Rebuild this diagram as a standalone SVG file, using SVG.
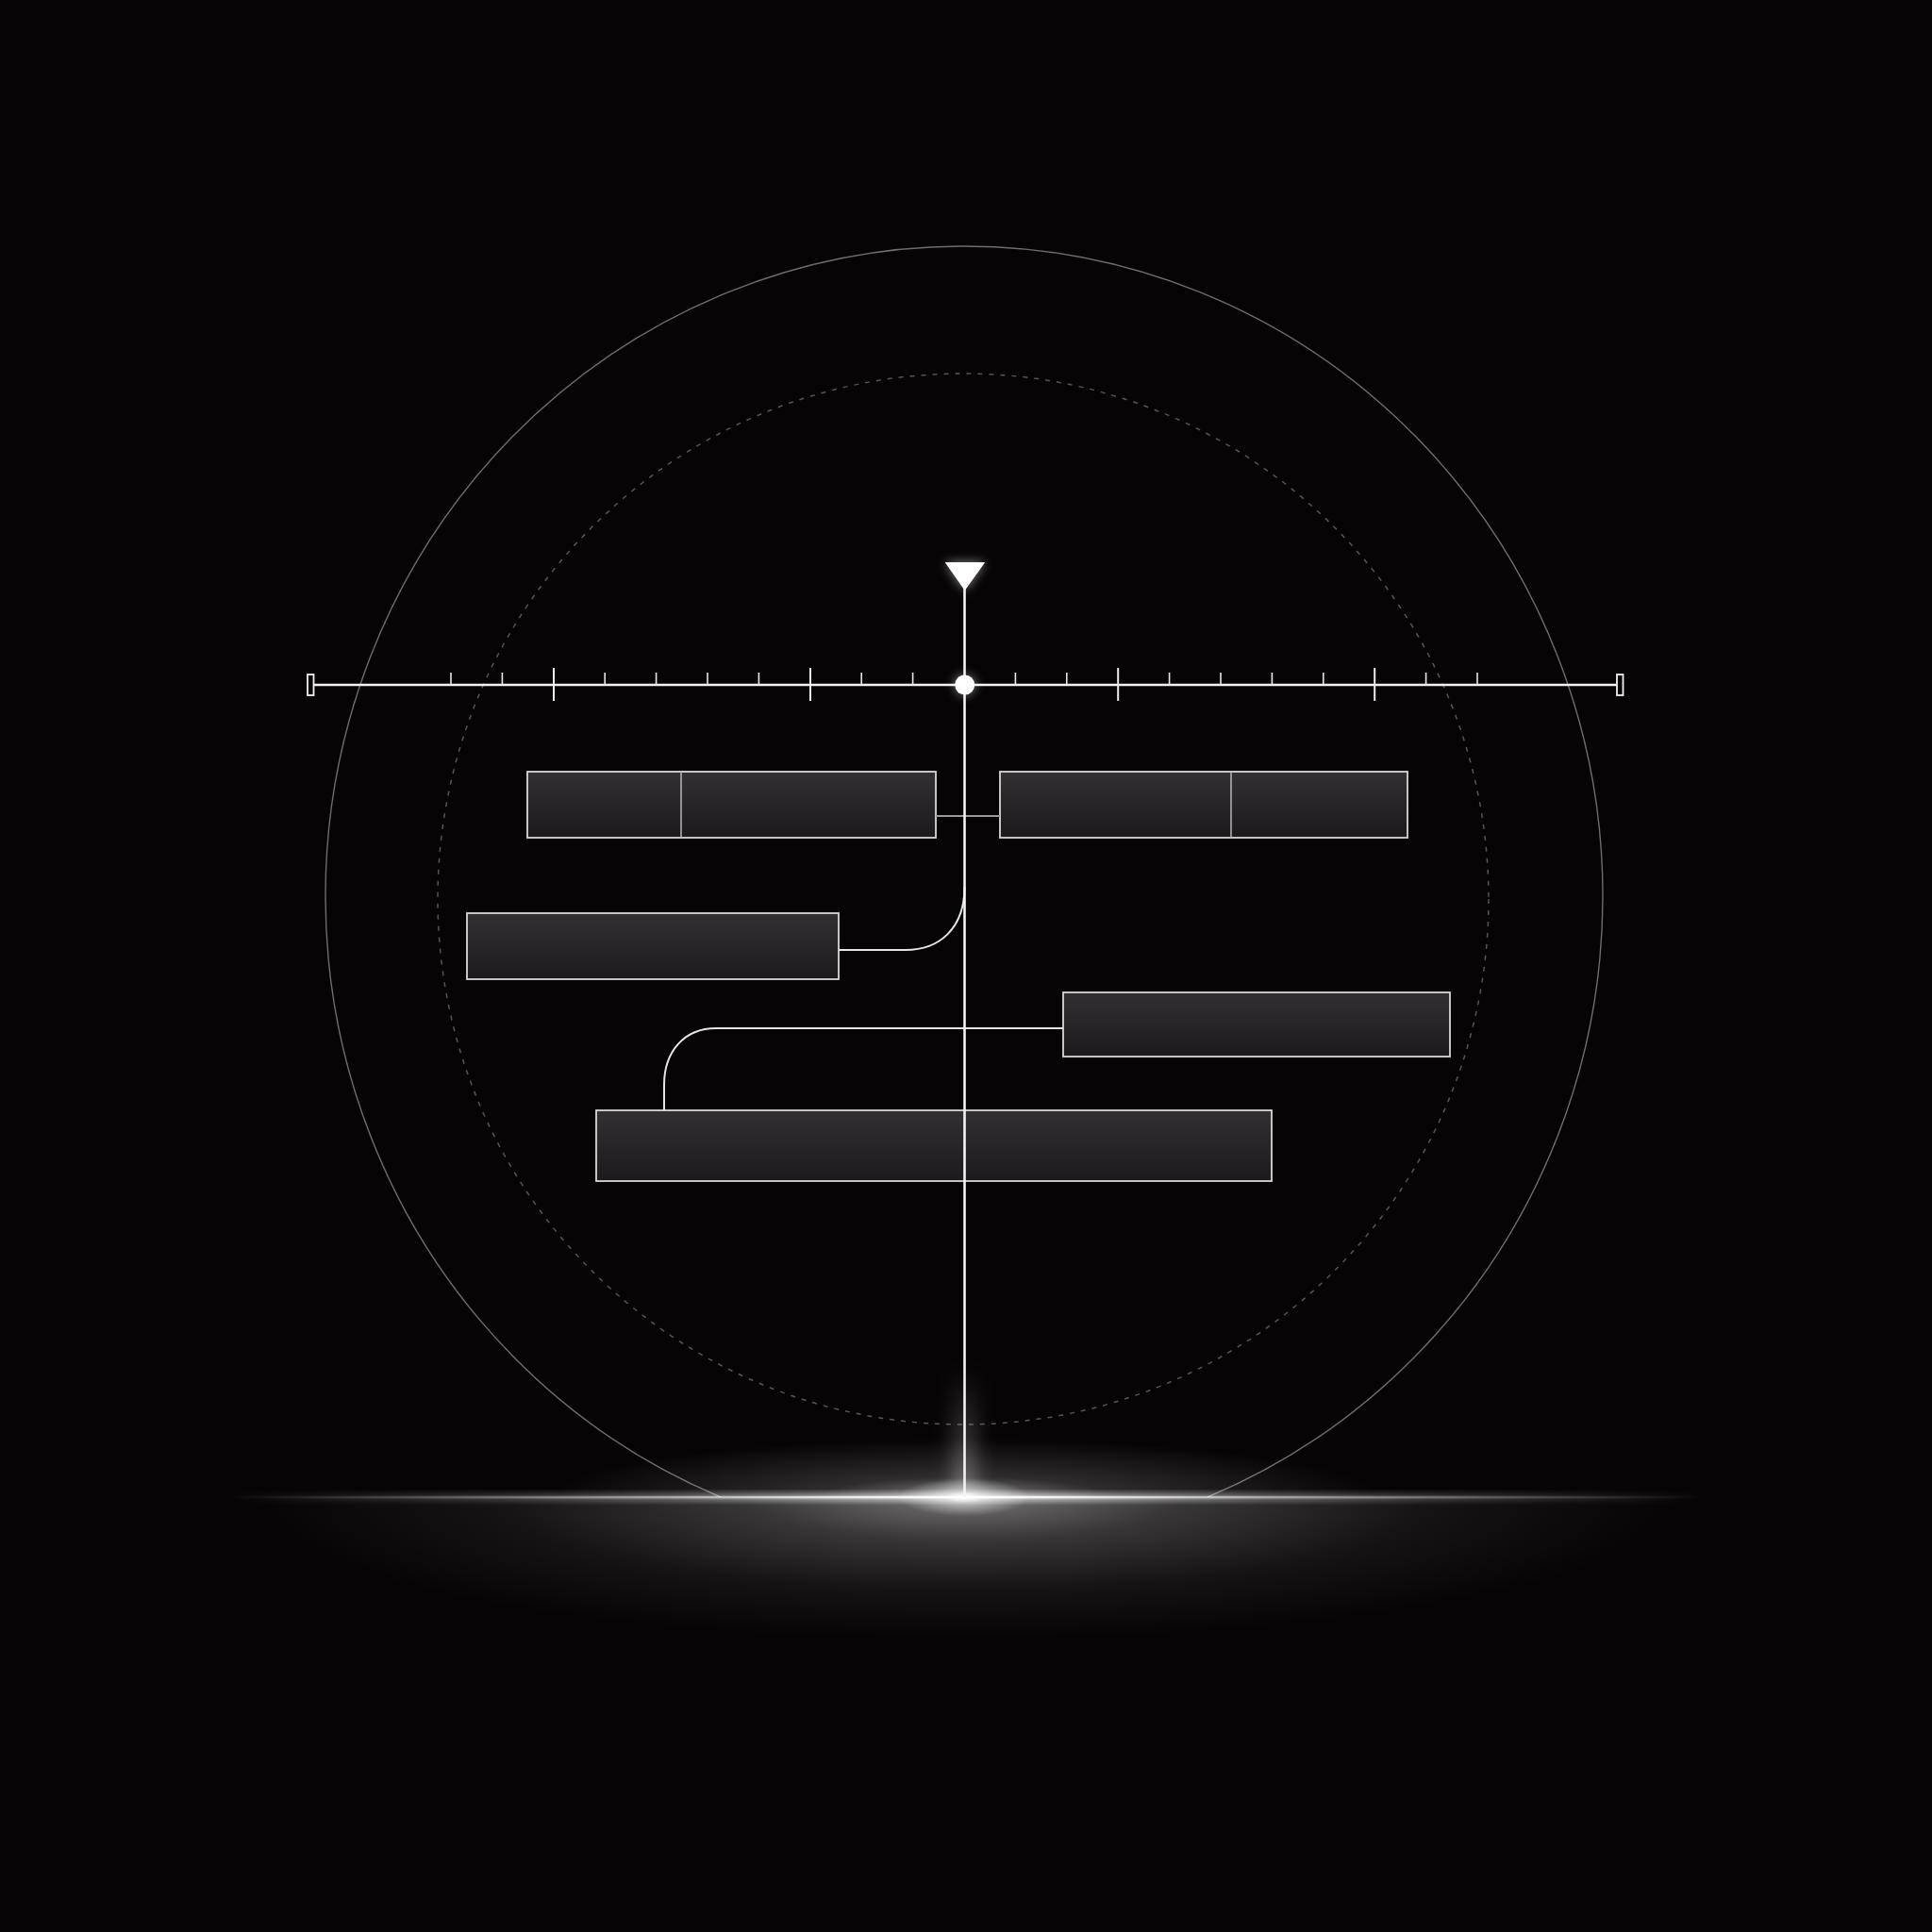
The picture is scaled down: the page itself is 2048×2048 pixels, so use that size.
<svg xmlns="http://www.w3.org/2000/svg" width="2048" height="2048" viewBox="0 0 2048 2048">
  <defs>
    <style>
      .box { fill: url(#boxFill); stroke: #d8d8d8; stroke-width: 1.8; }
      .div { stroke: #b8b8b8; stroke-width: 1.5; }
      .conn { fill: none; stroke: #e6e6e6; stroke-width: 2; }
      .tick { stroke: #e8e8e8; stroke-width: 1.6; }
      .major { stroke: #f0f0f0; stroke-width: 2; }
    </style>
    <linearGradient id="boxFill" x1="0" y1="0" x2="0" y2="1">
      <stop offset="0" stop-color="#333033"/>
      <stop offset="1" stop-color="#1c1a1c"/>
    </linearGradient>
    <linearGradient id="horizonLine" x1="240" y1="0" x2="1810" y2="0" gradientUnits="userSpaceOnUse">
      <stop offset="0" stop-color="#ffffff" stop-opacity="0"/>
      <stop offset="0.3" stop-color="#ffffff" stop-opacity="0.45"/>
      <stop offset="0.5" stop-color="#ffffff" stop-opacity="1"/>
      <stop offset="0.7" stop-color="#ffffff" stop-opacity="0.45"/>
      <stop offset="1" stop-color="#ffffff" stop-opacity="0"/>
    </linearGradient>
    <radialGradient id="hazeBelow" cx="1022" cy="1587" r="760" gradientUnits="userSpaceOnUse" gradientTransform="translate(1022 1587) scale(1 0.2) translate(-1022 -1587)">
      <stop offset="0" stop-color="#ffffff" stop-opacity="0.45"/>
      <stop offset="0.3" stop-color="#ffffff" stop-opacity="0.2"/>
      <stop offset="0.65" stop-color="#ffffff" stop-opacity="0.06"/>
      <stop offset="1" stop-color="#ffffff" stop-opacity="0"/>
    </radialGradient>
    <radialGradient id="hazeAbove" cx="1022" cy="1587" r="440" gradientUnits="userSpaceOnUse" gradientTransform="translate(1022 1587) scale(1 0.14) translate(-1022 -1587)">
      <stop offset="0" stop-color="#ffffff" stop-opacity="0.5"/>
      <stop offset="0.35" stop-color="#ffffff" stop-opacity="0.16"/>
      <stop offset="1" stop-color="#ffffff" stop-opacity="0"/>
    </radialGradient>
    <radialGradient id="hot" cx="0.5" cy="0.5" r="0.5">
      <stop offset="0" stop-color="#ffffff" stop-opacity="1"/>
      <stop offset="0.3" stop-color="#ffffff" stop-opacity="0.5"/>
      <stop offset="1" stop-color="#ffffff" stop-opacity="0"/>
    </radialGradient>
    <linearGradient id="spineGlow" x1="0" y1="1450" x2="0" y2="1587" gradientUnits="userSpaceOnUse">
      <stop offset="0" stop-color="#ffffff" stop-opacity="0"/>
      <stop offset="1" stop-color="#ffffff" stop-opacity="0.35"/>
    </linearGradient>
    <filter id="blur6" x="-50%" y="-50%" width="200%" height="200%">
      <feGaussianBlur stdDeviation="6"/>
    </filter>
    <filter id="blur10" x="-100%" y="-50%" width="300%" height="200%">
      <feGaussianBlur stdDeviation="10"/>
    </filter>
    <filter id="blur3" x="-50%" y="-50%" width="200%" height="200%">
      <feGaussianBlur stdDeviation="3"/>
    </filter>
    <clipPath id="aboveHorizon">
      <rect x="0" y="0" width="2048" height="1587"/>
    </clipPath>
  </defs>

  <rect width="2048" height="2048" fill="#070406"/>

  <!-- Rings -->
  <g id="rings">
    <ellipse cx="1022" cy="950" rx="677" ry="689" fill="none" stroke="#6e6e6e" stroke-width="1.4" clip-path="url(#aboveHorizon)"/>
    <circle cx="1021" cy="953" r="557" fill="none" stroke="#565656" stroke-width="1.5" stroke-dasharray="5 7"/>
  </g>

  <!-- Horizon glow -->
  <g id="horizon">
    <rect x="0" y="1587" width="2048" height="300" fill="url(#hazeBelow)"/>
    <rect x="0" y="1460" width="2048" height="127" fill="url(#hazeAbove)"/>
    <rect x="240" y="1583" width="1570" height="8" fill="url(#horizonLine)" filter="url(#blur3)" opacity="0.8"/>
    <rect x="240" y="1585.8" width="1570" height="2.6" fill="url(#horizonLine)"/>
    <ellipse cx="1022" cy="1587" rx="70" ry="20" fill="url(#hot)"/>
  </g>

  <!-- Timeline axis -->
  <g id="axis">
    <line x1="332" y1="726" x2="1714" y2="726" stroke="#f2f2f2" stroke-width="2.6"/>
    <rect x="326" y="715" width="6.5" height="22" fill="none" stroke="#f2f2f2" stroke-width="1.8"/>
    <rect x="1714" y="715" width="6.5" height="22" fill="none" stroke="#f2f2f2" stroke-width="1.8"/>
    <g class="ticks">
      <line class="tick" x1="478" y1="713" x2="478" y2="726"/>
      <line class="tick" x1="532.4" y1="713" x2="532.4" y2="726"/>
      <line class="major" x1="587" y1="708" x2="587" y2="743"/>
      <line class="tick" x1="641.2" y1="713" x2="641.2" y2="726"/>
      <line class="tick" x1="695.6" y1="713" x2="695.6" y2="726"/>
      <line class="tick" x1="750" y1="713" x2="750" y2="726"/>
      <line class="tick" x1="804.4" y1="713" x2="804.4" y2="726"/>
      <line class="major" x1="859" y1="708" x2="859" y2="743"/>
      <line class="tick" x1="913.2" y1="713" x2="913.2" y2="726"/>
      <line class="tick" x1="967.6" y1="713" x2="967.6" y2="726"/>
      <line class="tick" x1="1076.4" y1="713" x2="1076.4" y2="726"/>
      <line class="tick" x1="1130.8" y1="713" x2="1130.8" y2="726"/>
      <line class="major" x1="1185.2" y1="708" x2="1185.2" y2="743"/>
      <line class="tick" x1="1239.6" y1="713" x2="1239.6" y2="726"/>
      <line class="tick" x1="1294" y1="713" x2="1294" y2="726"/>
      <line class="tick" x1="1348.4" y1="713" x2="1348.4" y2="726"/>
      <line class="tick" x1="1402.8" y1="713" x2="1402.8" y2="726"/>
      <line class="major" x1="1457.2" y1="708" x2="1457.2" y2="743"/>
      <line class="tick" x1="1511.6" y1="713" x2="1511.6" y2="726"/>
      <line class="tick" x1="1566" y1="713" x2="1566" y2="726"/>
    </g>
  </g>

  <!-- Nodes -->
  <g id="node-1">
    <rect class="box" x="559" y="818" width="433" height="70"/>
    <line class="div" x1="722" y1="818" x2="722" y2="888"/>
  </g>
  <g id="node-2">
    <rect class="box" x="1060" y="818" width="432" height="70"/>
    <line class="div" x1="1305" y1="818" x2="1305" y2="888"/>
  </g>
  <g id="node-3">
    <rect class="box" x="495" y="968" width="394" height="70"/>
  </g>
  <g id="node-4">
    <rect class="box" x="1127" y="1052" width="410" height="68"/>
  </g>
  <g id="node-5">
    <rect class="box" x="632" y="1177" width="716" height="75"/>
  </g>

  <!-- Connectors -->
  <g id="connectors">
    <line x1="992" y1="865" x2="1060" y2="865" stroke="#9a9a9a" stroke-width="2"/>
    <path class="conn" d="M889 1007 H960 C995 1007 1022.5 985 1022.5 940"/>
    <path class="conn" d="M1127 1090 H759 C725 1090 704 1115 704 1150 V1177"/>
    <!-- spine -->
    <rect x="1010" y="1450" width="25" height="137" fill="url(#spineGlow)" filter="url(#blur10)"/>
    <line x1="1022.5" y1="620" x2="1022.5" y2="1587" stroke="#f4f4f4" stroke-width="2.6"/>
    <!-- marker triangle and dot -->
    <polygon points="1001.7,596 1044.3,596 1022.7,626" fill="#ffffff" filter="url(#blur6)" opacity="0.5"/>
    <polygon points="1001.7,596 1044.3,596 1022.7,626" fill="#ffffff"/>
    <circle cx="1022.7" cy="726" r="10.5" fill="#ffffff" filter="url(#blur6)" opacity="0.5"/>
    <circle cx="1022.7" cy="726" r="10.5" fill="#ffffff"/>
  </g>
</svg>
